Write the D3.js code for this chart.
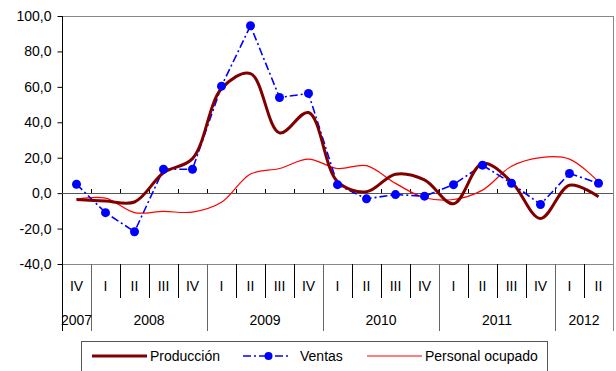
<!DOCTYPE html>
<html><head><meta charset="utf-8">
<script src="https://cdn.jsdelivr.net/npm/d3@7"></script>
<style>
html,body{margin:0;padding:0;background:#fff;}
svg{display:block;font-family:"Liberation Sans",Arial,sans-serif;}
</style></head>
<body><svg id="c" width="616" height="371"></svg>
<script>
// ---- data ----
const quarters = ["IV","I","II","III","IV","I","II","III","IV","I","II","III","IV","I","II","III","IV","I","II"];
const yearOfQuarter = [2007,2008,2008,2008,2008,2009,2009,2009,2009,2010,2010,2010,2010,2011,2011,2011,2011,2012,2012];
const yTicks = [-40,-20,0,20,40,60,80,100];
const produccion = [-3.6,-4.4,-5.0,11.5,19.5,59,67.5,34,45.5,6.5,0.8,10.7,7.5,-6,16.8,6.4,-14.3,4.5,-2];
const ventas = [5,-11,-21.8,13.5,13.5,60.4,94.5,54,56.3,4.8,-3.2,-0.8,-1.7,4.8,15.8,5.6,-6.4,11.1,5.6];
const personal = [-3.4,-2.8,-11,-10.3,-10.7,-5.2,10.8,13.9,19.2,13.9,15.5,5.5,-2.6,-3.6,1.7,15.2,20.1,19.2,6.4];
const seriesNames = ["Producción","Ventas","Personal ocupado"];

// ---- layout ----
const L=62, R=613, T=16, B=264;
const svg=d3.select("#c");
const idx=d3.range(quarters.length);
const x=d3.scaleBand().domain(idx).range([L,R]).paddingInner(0).paddingOuter(0);
const y=d3.scaleLinear().domain([-40,100]).range([B,T]);
const cx=i=>x(i)+x.bandwidth()/2;

// frame: top and right grey
svg.append("line").attr("x1",L).attr("x2",R).attr("y1",T+0.5).attr("y2",T+0.5).attr("stroke","#888");
svg.append("line").attr("x1",R+0.5).attr("x2",R+0.5).attr("y1",T).attr("y2",331).attr("stroke","#888");
svg.append("line").attr("x1",L).attr("x2",R).attr("y1",B+0.5).attr("y2",B+0.5).attr("stroke","#888");

// y axis
const ya=svg.append("g").attr("transform",`translate(${L+0.5},0)`)
 .call(d3.axisLeft(y).tickValues(yTicks).tickSize(5).tickPadding(6).tickFormat(d=>d.toFixed(1).replace(".",",")));
ya.select(".domain").remove();
ya.selectAll("line").attr("stroke","#000");
ya.selectAll("text").attr("font-size",14).attr("fill","#000").attr("font-family","Liberation Sans, Arial, sans-serif");
svg.append("line").attr("x1",L+0.5).attr("x2",L+0.5).attr("y1",T).attr("y2",331).attr("stroke","#000");

// zero line with ticks at category boundaries
svg.append("line").attr("x1",L).attr("x2",R).attr("y1",Math.round(y(0))+0.5).attr("y2",Math.round(y(0))+0.5).attr("stroke","#555");
svg.selectAll(".zt").data(idx.slice(1)).enter().append("line")
 .attr("x1",i=>Math.round(x(i))+0.5).attr("x2",i=>Math.round(x(i))+0.5)
 .attr("y1",Math.round(y(0))-4).attr("y2",Math.round(y(0))).attr("stroke","#000");

// category table
const isYearStart=i=>i>0 && yearOfQuarter[i]!==yearOfQuarter[i-1];
svg.selectAll(".qs").data(idx.slice(1)).enter().append("line")
 .attr("x1",i=>Math.round(x(i))+0.5).attr("x2",i=>Math.round(x(i))+0.5)
 .attr("y1",B).attr("y2",i=>isYearStart(i)?331:298).attr("stroke",i=>isYearStart(i)?"#666":"#000");
svg.selectAll(".ql").data(idx).enter().append("text")
 .attr("x",cx).attr("y",291).attr("text-anchor","middle").attr("font-size",14).text(i=>quarters[i]);
const years=Array.from(d3.group(idx,i=>yearOfQuarter[i]),([k,v])=>({year:k,first:v[0],last:v[v.length-1]}));
svg.selectAll(".yl").data(years).enter().append("text")
 .attr("x",d=>(x(d.first)+x(d.last)+x.bandwidth())/2).attr("y",325).attr("text-anchor","middle")
 .attr("font-size",14).text(d=>d.year);

// series
const smooth=d3.line().x((d,i)=>cx(i)).y(d=>y(d)).curve(d3.curveCatmullRom.alpha(0.5));
const straight=d3.line().x((d,i)=>cx(i)).y(d=>y(d));
svg.append("path").attr("d",smooth(personal)).attr("fill","none").attr("stroke","#ff0000").attr("stroke-width",1.2);
svg.append("path").attr("d",straight(ventas)).attr("fill","none").attr("stroke","#0000ff").attr("stroke-width",1.6).attr("stroke-dasharray","8,3,2,3");
svg.append("path").attr("d",smooth(produccion)).attr("fill","none").attr("stroke","#800000").attr("stroke-width",3).attr("stroke-linejoin","round");
svg.selectAll(".vm").data(ventas).enter().append("circle")
 .attr("cx",(d,i)=>cx(i)).attr("cy",d=>y(d)).attr("r",4.5).attr("fill","#0000ff");

// legend
const lg=svg.append("g");
lg.append("rect").attr("x",81.5).attr("y",341.5).attr("width",466).attr("height",40).attr("fill","#fff").attr("stroke","#555");
const legX=[[92,147,150],[243,290,300],[367,422,425]];
seriesNames.forEach((n,k)=>{
  const [a,b,t]=legX[k]; const ly=356;
  const ln=lg.append("line").attr("x1",a).attr("x2",b).attr("y1",ly).attr("y2",ly);
  if(k===0) ln.attr("stroke","#800000").attr("stroke-width",3);
  if(k===1){ ln.attr("stroke","#0000ff").attr("stroke-width",1.6).attr("stroke-dasharray","8,3,2,3");
    lg.append("circle").attr("cx",(a+b)/2+2).attr("cy",ly).attr("r",4).attr("fill","#0000ff"); }
  if(k===2) ln.attr("stroke","#ff0000").attr("stroke-width",1.2);
  lg.append("text").attr("x",t).attr("y",ly+5).attr("font-size",14).text(n);
});
</script></body></html>
